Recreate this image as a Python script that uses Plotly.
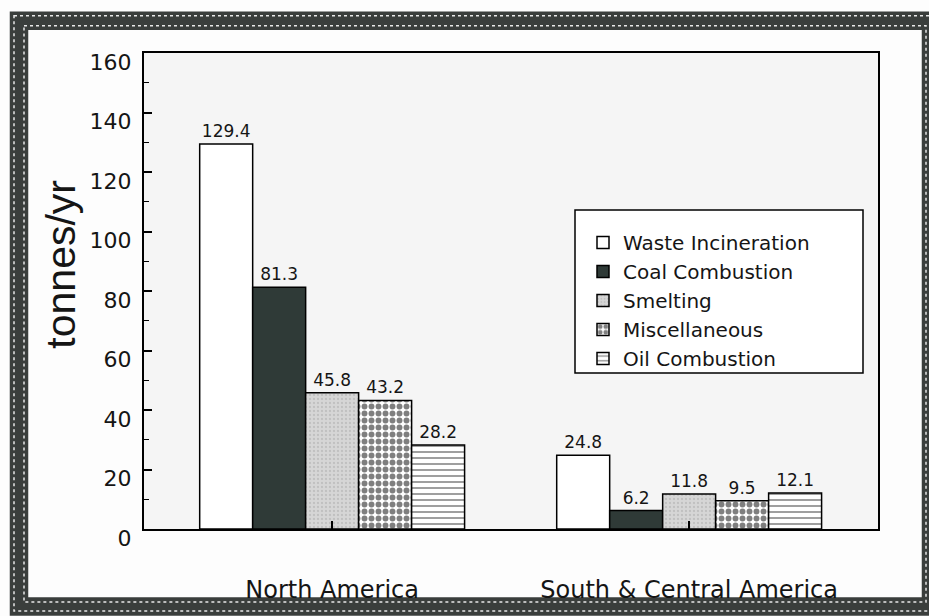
import plotly.graph_objects as go

# ---- data -------------------------------------------------------------
regions = ["North America", "South & Central America"]
series_names = ["Waste Incineration", "Coal Combustion", "Smelting",
                "Miscellaneous", "Oil Combustion"]
waste_incineration = [129.4, 24.8]
coal_combustion = [81.3, 6.2]
smelting = [45.8, 11.8]
miscellaneous = [43.2, 9.5]
oil_combustion = [28.2, 12.1]
y_ticks = [0, 20, 40, 60, 80, 100, 120, 140, 160]

# ---- page geometry (pixels) -------------------------------------------
W, H = 929, 616
L, R, T, B = 144, 878, 53, 532          # plot area edges


def xp(px):
    return (px - L) / (R - L)


def yp(py):
    return (B - py) / (B - T)


TXT = "#151515"
FONT = "DejaVu Sans"

# fill styles per series
styles = [
    dict(color="white"),
    dict(color="#2f3a37"),
    dict(color="#d6d6d6",
         pattern=dict(shape=".", fgcolor="#a9a9a9", size=4, solidity=0.25)),
    dict(color="white",
         pattern=dict(shape=".", fgcolor="black", size=7, solidity=0.55)),
    dict(color="white",
         pattern=dict(shape="-", fgcolor="black", size=6, solidity=0.25)),
]
values = [waste_incineration, coal_combustion, smelting,
          miscellaneous, oil_combustion]

fig = go.Figure()
for name, vals, st in zip(series_names, values, styles):
    marker = dict(line=dict(color="black", width=1.5), **st)
    fig.add_trace(go.Bar(
        x=regions, y=vals, name=name, marker=marker,
        text=[f"{v:.1f}" for v in vals], textposition="outside",
        textfont=dict(family=FONT, size=17, color=TXT),
        constraintext="none", cliponaxis=False,
    ))

# ---- decorative frame around the page ---------------------------------
shapes = [
    dict(type="rect", xref="paper", yref="paper", layer="below",
         x0=xp(19), x1=xp(931), y0=yp(20.5), y1=yp(610),
         line=dict(color="#3a3e3c", width=18.5), fillcolor="rgba(0,0,0,0)"),
    dict(type="rect", xref="paper", yref="paper", layer="below",
         x0=xp(14), x1=xp(935), y0=yp(15.5), y1=yp(614.5),
         line=dict(color="#e8e8e8", width=1.5, dash="dot"),
         fillcolor="rgba(0,0,0,0)"),
    dict(type="rect", xref="paper", yref="paper", layer="below",
         x0=xp(24), x1=xp(926), y0=yp(25.5), y1=yp(605.5),
         line=dict(color="#e8e8e8", width=1.5, dash="dot"),
         fillcolor="rgba(0,0,0,0)"),
    # legend box
    dict(type="rect", xref="paper", yref="paper", layer="above",
         x0=xp(575), x1=xp(863), y0=yp(211), y1=yp(375),
         line=dict(color="black", width=1.5), fillcolor="white"),
]

fig.update_layout(
    width=W, height=H,
    margin=dict(l=L, r=W - R, t=T, b=H - B, pad=0),
    paper_bgcolor="#fdfdfd",
    plot_bgcolor="#f5f5f5",
    barmode="group", bargap=0.258, bargroupgap=0,
    font=dict(family=FONT, color=TXT),
    showlegend=True,
    legend=dict(
        x=xp(583), y=yp(224), xanchor="left", yanchor="top",
        bgcolor="rgba(0,0,0,0)", borderwidth=0,
        font=dict(family=FONT, size=20, color=TXT),
        itemwidth=30, traceorder="normal",
    ),
    shapes=shapes,
    annotations=[dict(
        text="tonnes/yr", textangle=-90, showarrow=False,
        xref="paper", yref="paper", x=xp(61), y=yp(266),
        xanchor="center", yanchor="middle",
        font=dict(family="Liberation Sans", size=41, color=TXT),
    )],
)

fig.update_xaxes(
    type="category", range=[-0.527, 1.529],
    showline=True, linecolor="black", linewidth=2, mirror=True,
    ticks="inside", ticklen=8, tickwidth=1.5, tickcolor="black",
    ticklabelstandoff=38,
    tickfont=dict(family=FONT, size=24, color=TXT),
    showgrid=False, zeroline=False,
)
fig.update_yaxes(
    range=[0, 160], tickvals=y_ticks,
    showline=True, linecolor="black", linewidth=2, mirror=True,
    ticks="inside", ticklen=8, tickwidth=1.5, tickcolor="black",
    minor=dict(ticks="inside", ticklen=5, dtick=10, tickwidth=1.2,
               tickcolor="black", showgrid=False),
    ticklabelstandoff=6, ticklabelshift=9,
    tickfont=dict(family=FONT, size=22, color=TXT),
    showgrid=False, zeroline=False,
)

fig.write_html("out.html")
